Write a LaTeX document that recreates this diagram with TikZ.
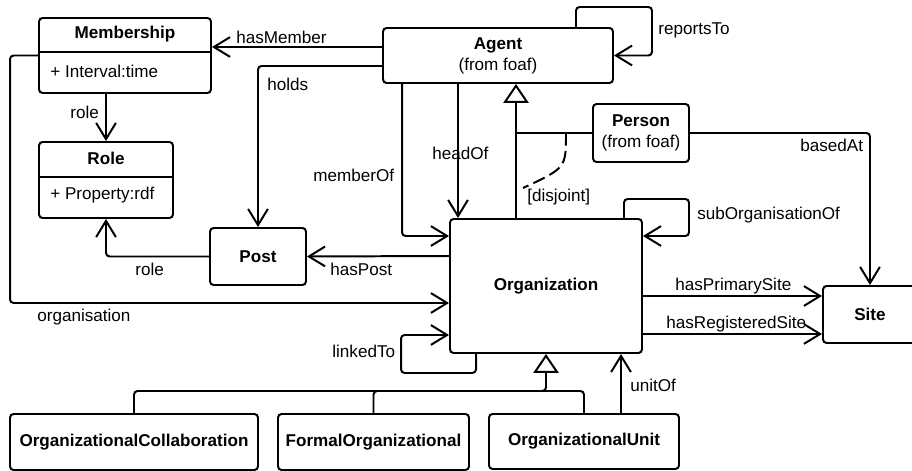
\documentclass[tikz,border=0pt]{standalone}
\usepackage{fontspec}
\setmainfont{Liberation Sans}
\usepackage{tikz}
\usetikzlibrary{arrows.meta, calc}
\newcommand{\pxu}{0.5556pt}

\begin{document}
\begin{tikzpicture}[
    x=\pxu, y=-\pxu,  % one unit = one pixel of the layout, y grows downwards
    every node/.style={font=\fontsize{9.5pt}{11.7pt}\selectfont},
    classbox/.style 2 args={draw, rounded corners=2pt, line width=1.1pt,
        minimum width=#1*\pxu, minimum height=#2*\pxu, inner sep=0pt, align=center},
    lbl/.style={inner sep=0pt, anchor=west},
    link/.style={line width=1.1pt, rounded corners=2pt},
    assoc/.style={link, -{Straight Barb[length=9pt,width=11pt]}},
    inherit/.style={link, -{Triangle[open,length=10.5pt,width=14pt]}},
]
\useasboundingbox (0,0) rectangle (912,471);

% ── Classes with attributes ──────────────────────────────────────────────────
\node[classbox={172}{75}] (membership) at (125,55.5) {};
\node (membershiptitle) at (125,34) {\textbf{Membership}};
\draw[line width=1.1pt] ($(membership.north west)+(0,35)$) -- ($(membership.north east)+(0,35)$);
\node[lbl] (intervalattr) at (50,71) {+ Interval:time};

\node[classbox={134}{76}] (role) at (106,180) {};
\node (roletitle) at (106,158) {\textbf{Role}};
\draw[line width=1.1pt] ($(role.north west)+(0,36)$) -- ($(role.north east)+(0,36)$);
\node[lbl] (propertyattr) at (50,195) {+ Property:rdf};

% ── Plain classes ────────────────────────────────────────────────────────────
\node[classbox={230}{55}] (agent) at (498,55.5) {\textbf{Agent}\\(from foaf)};
\node[classbox={96}{58}] (person) at (641,133) {\textbf{Person}\\(from foaf)};
\node[classbox={96}{57}] (post) at (258,256.5) {\textbf{Post}};
\node[classbox={192}{134}] (organization) at (546,286) {\textbf{Organization}};
\node[classbox={94}{57}] (site) at (870,314.5) {\textbf{Site}};
\node[classbox={248}{56}] (collab) at (134,442) {\textbf{OrganizationalCollaboration}};
\node[classbox={191}{56}] (formal) at (373.5,442) {\textbf{FormalOrganizational}};
\node[classbox={190}{55}] (unit) at (584,441.5) {\textbf{OrganizationalUnit}};

% ── Generalisations ──────────────────────────────────────────────────────────
\draw[inherit] ($(organization.north west)+(67,0)$) coordinate (orgtop)
    -- (orgtop |- agent.south);
\draw[link] (person.west) -- (person.west -| orgtop);
\draw[dashed, dash pattern=on 7pt off 3pt, line width=1.1pt]
    (566,133) .. controls (566,168) .. (523,188);
\node[lbl] (disjointlbl) at (527,197) {[disjoint]};

\coordinate (hub) at (546,391);
\draw[inherit] (collab.north) |- (hub) -- (organization.south);
\draw[link] (formal.north) |- (hub);
\draw[link] (unit.north) |- (hub);

% ── Associations around Agent ────────────────────────────────────────────────
\draw[assoc] ($(agent.west)+(0,-8.5)$) -- ($(membership.east)+(0,-8.5)$);
\node[lbl] (hasmemberlbl) at (236,37) {hasMember};

\draw[assoc] ($(agent.west)+(0,10.5)$) -| (post.north);
\node[lbl] (holdslbl) at (267,84) {holds};

\draw[assoc] ($(agent.south west)+(20,0)$) |- ($(organization.north west)+(0,18)$);
\node[lbl] (memberoflbl) at (313,175) {memberOf};

\draw[assoc] ($(agent.south west)+(76,0)$) -- ($(organization.north west)+(9,0)$);
\node[lbl] (headoflbl) at (432,153) {headOf};

\draw[assoc] ($(agent.north east)+(-38,0)$) |- ($(agent.north east)+(38,-20)$) |- (agent.east);
\node[lbl] (reportstolbl) at (658,30) {reportsTo};

\draw[assoc] (person.east) -| (site.north);
\node[lbl] (basedatlbl) at (800,145) {basedAt};

% ── Associations around Organization ─────────────────────────────────────────
\draw[assoc] ($(organization.north east)+(-19,0)$)
    |- ($(organization.north east)+(46,-19)$) |- ($(organization.north east)+(0,18)$);
\node[lbl] (suborglbl) at (697,215) {subOrganisationOf};

\draw[assoc] ($(organization.east)+(0,10)$) -- ($(site.west)+(0,-18.5)$);
\node[lbl] (primarylbl) at (675,286) {hasPrimarySite};
\draw[assoc] ($(organization.east)+(0,48)$) -- ($(site.west)+(0,19.5)$);
\node[lbl] (registeredlbl) at (666,324) {hasRegisteredSite};

\draw[assoc] ($(organization.west)+(0,-30)$) -- (post.east);
\node[lbl] (haspostlbl) at (330,269) {hasPost};

\draw[assoc] ($(organization.south west)+(27,0)$)
    |- ($(organization.south west)+(-48,19)$) |- ($(organization.south west)+(0,-19)$);
\node[lbl] (linkedtolbl) at (332,351) {linkedTo};

\draw[assoc] ($(unit.north west)+(133,0)$) -- ($(organization.south west)+(172,0)$);
\node[lbl] (unitoflbl) at (630,385) {unitOf};

% ── Membership and Post ──────────────────────────────────────────────────────
\draw[assoc] (role.north |- membership.south) -- (role.north);
\node[lbl] (roleuplbl) at (70,112) {role};

\draw[assoc] (post.west) -| (role.south);
\node[lbl] (roledownlbl) at (135,269) {role};

\draw[assoc] (membership.west) -- ++(-28,0) |- ($(organization.west)+(0,17)$);
\node[lbl] (organisationlbl) at (37,317) {organisation};

\end{tikzpicture}
\end{document}
